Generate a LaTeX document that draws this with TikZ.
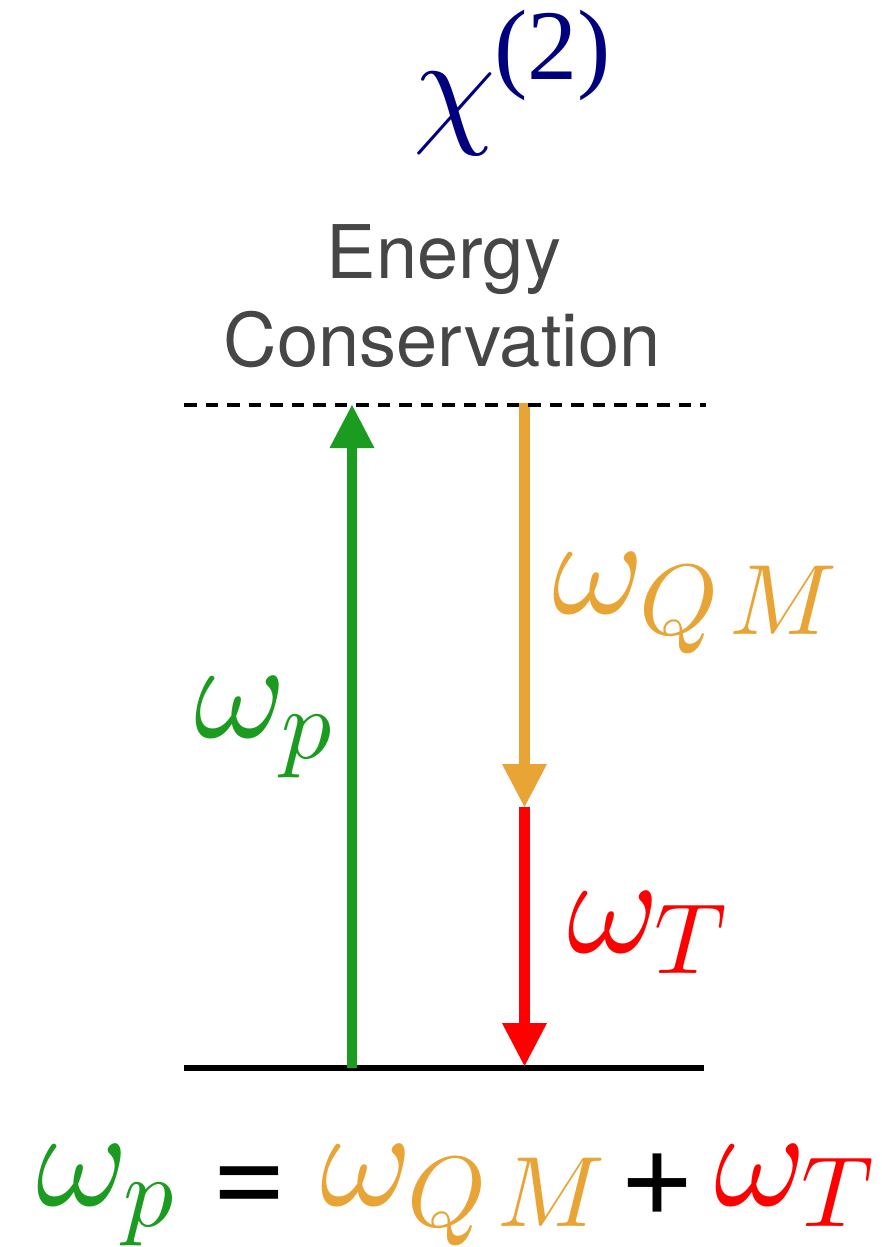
\documentclass[tikz,border=0pt]{standalone}
\usepackage{fontspec}
\newfontfamily\heros{TeX Gyre Heros}
\newfontfamily\timesf{Liberation Serif}
\usetikzlibrary{arrows.meta}
\DeclareFontFamily{OML}{cmmx}{\skewchar\font=127}
\DeclareFontShape{OML}{cmmx}{m}{it}{<-> cmmi10}{}
\DeclareSymbolFont{letters}{OML}{cmmx}{m}{it}
\DeclareFontFamily{OMS}{cmsx}{\skewchar\font=48}
\DeclareFontShape{OMS}{cmsx}{m}{n}{<-> cmsy10}{}
\DeclareSymbolFont{symbols}{OMS}{cmsx}{m}{n}
\DeclareFontFamily{OMX}{cmexx}{}
\DeclareFontShape{OMX}{cmexx}{m}{n}{<-> cmex10}{}
\DeclareSymbolFont{largesymbols}{OMX}{cmexx}{m}{n}
\DeclareMathSizes{140}{140}{100}{80}
\DeclareMathSizes{132}{132}{95}{75}
\definecolor{pgreen}{HTML}{1B9B1F}
\definecolor{porange}{HTML}{E8A536}
\definecolor{pred}{HTML}{FF0000}
\definecolor{pnavy}{HTML}{00007F}
\definecolor{pgrey}{HTML}{464646}
\begin{document}
\begin{tikzpicture}[x=1pt,y=-1pt,
  lbl/.style={inner sep=0pt, outer sep=0pt, anchor=base west},
  mlbl/.style={lbl, font=\fontsize{140}{140}\selectfont},
  oplbl/.style={lbl, font=\heros\fontsize{130}{130}\selectfont, text=black},
  ectext/.style={inner sep=0pt, outer sep=0pt, anchor=base, text=pgrey, font=\heros\fontsize{74}{88}\selectfont},
  arr/.style={line width=10.7pt, -{Triangle[width=45pt,length=43pt,line width=0pt]}},
  level/.style={line width=5.3pt},
  virtual/.style={line width=4.7pt, dash pattern=on 12.5pt off 9pt}]
\useasboundingbox (0,0) rectangle (882,1247);
% title
\node[lbl, text=pnavy, font=\fontsize{132}{132}\selectfont] (chi) at (413,129) {$\chi$};
\node[lbl, text=pnavy, font=\timesf\fontsize{100}{100}\selectfont] (chisup) at (494,80) {(2)};
\node[ectext] (ec1) at (444,278) {Energy};
\node[ectext] (ec2) at (442,366) {Conservation};
% coordinates
\coordinate (gbot) at (352,1068);
\coordinate (gtop) at (352,405);
\coordinate (otop) at (524.5,403);
\coordinate (omid) at (524.5,807);
\coordinate (rbot) at (524.5,1066);
\coordinate (dl) at (184,405);
\coordinate (dr) at (706,405);
\coordinate (sl) at (184,1068);
\coordinate (sr) at (704,1068);
% levels and arrows
\draw[level] (sl) -- (sr);
\draw[arr, pgreen] (gbot) -- (gtop);
\draw[arr, porange] (otop) -- (omid);
\draw[arr, pred] (omid) -- (rbot);
\draw[virtual] (dl) -- (dr);
% labels
\node[mlbl, text=pgreen] (wp) at (194,737) {$\omega_p$};
\node[mlbl, text=porange] (wqm) at (552,613) {$\omega_{Q\mkern2mu M}$};
\node[mlbl, text=pred] (wt) at (567,952) {$\omega_T$};
% equation
\node[mlbl, text=pgreen] (bwp) at (36,1205) {$\omega_p$};
\node[oplbl] (beq) at (211,1215) {=};
\node[mlbl, text=porange] (bwqm) at (320,1205) {$\omega_{Q\mkern2mu M}$};
\node[oplbl] (bplus) at (619,1215) {+};
\node[mlbl, text=pred] (bwt) at (714,1205) {$\omega_T$};
\end{tikzpicture}
\end{document}
